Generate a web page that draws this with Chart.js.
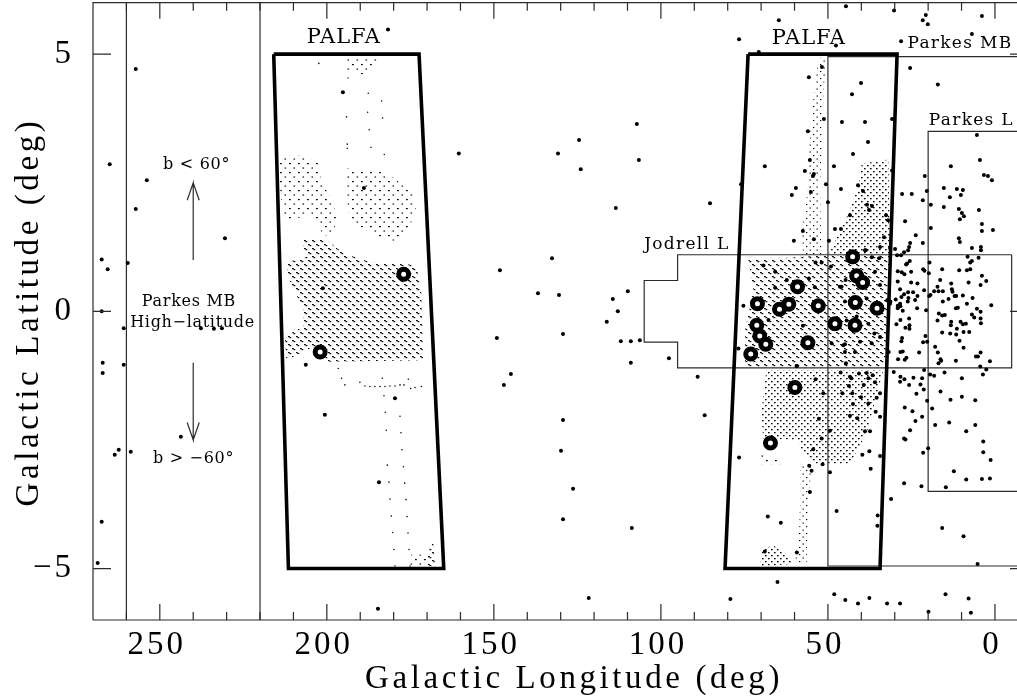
<!DOCTYPE html>
<html>
<head>
<meta charset="utf-8">
<title>Galactic pulsar surveys</title>
<script src="https://cdn.jsdelivr.net/npm/chart.js@4"></script>
<style>
html,body{margin:0;padding:0;background:#fff;overflow:hidden}
canvas{display:block}
</style>
</head>
<body>
<canvas id="c" width="1017" height="700"></canvas>
<script>
/* ---------- DATA: [longitude, latitude] in degrees ---------- */
const xMajorTicks=[250,200,150,100,50,0];
const xMinorTicks=[260,240,230,220,210,190,180,170,160,140,130,120,110,90,80,70,60,40,30,20,10];
const yTicks=[-5,0,5];

const pulsars=[[257.2,4.71],[265,2.86],[253.9,2.55],[257.2,1.99],[230.5,1.42],[267.4,1.01],[265.6,.82],[259.6,.94],[267.4,0],[260.8,-.33],[237.7,-.33],[233.8,-.34],[231.4,-.33],[201.2,.45],
[267.1,-1],[267.1,-1.2],[260.8,-1.04],[206.3,-1.04],[200.6,-2.01],[243.7,-2.44],[262.3,-2.69],[263.5,-2.79],[258.7,-2.73],[267.4,-4.09],[268.6,-4.89],
[181.7,5.48],[195.2,4.26],[188.9,2.4],[160.5,3.07],[130.8,3.07],[124.5,3.33],[124,2.76],[107.2,3.64],[106.6,2.94],[113.5,2.01],[132.6,1.03],[148.2,.8],[136.8,.35],[130.5,.32],[109.9,.39],[114.4,.24],[112.9,0],[116.2,-.2],[129.3,-.44],[149.1,-.52],[112,-.58],[109,-.58],[106.3,-.56],
[144.9,-1.22],[147,-1.43],[109,-1],[97.6,-.91],[179.6,-1.69],[129.3,-2.11],[129.9,-2.71],[126.3,-3.45],[129.3,-4.04],[108.7,-4.21],[184.4,-3.32],[121.6,-5.57],[184.7,-5.78],
[44.6,5.93],[30.2,5.85],[20.7,5.76],[21.6,5.66],[20.1,5.58],[3.9,5.74],[64.7,5.66],[76.6,5.29],[6.9,5.39],[28.1,5.25],[47.6,5.17],[70.7,5.04],[25.4,4.73],[17.1,4.41],[51.8,4.75],[55.7,4.55],[40.1,4.44],[42.8,4.22],[51.2,3.74],[45.8,3.68],[38.9,3.68],[30.8,3.74],[56,3.5],[38,3.29],[5.4,3.43],[42.5,3.06],[55.4,2.94],[4.5,2.94],[68.9,2.82],[48.2,2.82],[13.2,2.82],[56.9,2.73],[54.2,2.67],[54.5,2.63],[30.8,2.74],[3.3,2.65],[2.1,2.63],[.9,2.55],[21,2.63],[76,2.47],[50.6,2.47],[59.6,2.4],[46.1,2.38],[41,2.45],[39.5,2.34],[15.3,2.4],[11.4,2.38],[9.6,2.36],[55.1,2.32],[60.8,2.26],[27.8,2.28],[24.9,2.28],[20.4,2.34],[10.2,2.26],[13.5,2.22],[21.6,2.16],[50,2.12],[85.3,2.1],[19.2,2.07],[15.3,2.03],[38.3,2.07],[36.8,2.05],[37.7,1.97],[10.8,1.99],[4.8,1.97],[9.9,1.91],[9.3,1.85],[43.4,1.87],[32.6,1.87],[10.5,1.79],[32,1.77],[26.9,1.75],[3.9,1.7],[19.2,1.62],[3.9,1.56],[.6,1.58],[47.9,1.6],[46.1,1.6],[57.5,1.56],[33.2,1.44],[23.7,1.48],[54.2,1.4],[10.8,1.42],[60.2,1.37],[49.7,1.37],[10.5,1.35],[25.4,1.33],[21.6,1.33],[34.4,1.25],[4.2,1.25],[6.9,1.23],[4.2,1.19],[25.7,1.25],[26,1.19],[27.2,1.15],[31.4,1.23],[29.9,1.21],[38.9,1.19],[28.1,1.09],[29.3,1.09],
[8.2,1.06],[4.9,1.04],[19.6,.95],[7.4,.95],[6.9,.98],[25.5,.98],[26.3,.93],[26.6,.91],[29.1,.78],[27.9,.76],[27.1,.72],[25.1,.77],[21.5,.82],[21.1,.79],[19.8,.74],[15.8,.82],[10.7,.8],[8.4,.8],[7.4,.82],[3.9,.69],[2.6,.59],[4.3,.51],[29.1,.58],[25.1,.56],[23.2,.54],[16.4,.61],[13.1,.54],[7.9,.56],[17.2,.48],[28.4,.43],[21.2,.41],[12.9,.43],[12.7,.38],[18.2,.39],[16.9,.39],[15.6,.39],[26,.37],[24.5,.37],[27.2,.33],[28,.28],[25.9,.26],[23.2,.3],[23.9,.22],[26.1,.19],[29.7,.23],[31.3,.19],[28.4,.15],[29.1,.11],[28.3,.1],[29.1,.06],[19.7,.3],[19.3,.32],[13.9,.24],[15.6,.19],[12.1,.3],[11.6,.3],[9.6,.31],[6.7,.26],[8.4,.15],[23.3,.06],[20.6,.02],[27.6,.01],[25.7,-.14],[16.8,-.04],[15.8,-.08],[15,-.07],[11.7,.06],[11.1,.07],[5.4,.05],[4.3,-.01],[1.1,.12],[28.3,-.17],[17.2,-.18],[6.9,-.06],[6.2,-.12],[4.3,-.14],[4.2,-.23],[10.3,-.2],[9.6,-.25],[8.7,-.24],[13.1,-.2],[13.2,-.27],[29.5,-.25],[25.6,-.27],[26.8,-.32],[25.6,-.34],[11.4,-.34],[15.8,-.41],[13.4,-.43],[11.6,-.45],[9.4,-.4],[7.7,-.4],[27.8,-.52],[28,-.58],[20.8,-.48],[21.5,-.6],[20.3,-.59],[10.6,-.57],[17.9,-.69],[9.4,-.71],[17.1,-.8],[22.7,-.8],[27.6,-.78],[28.3,-.79],[4.3,-.8],[5.7,-.88],[5.1,-.88],[26.5,-.9],[27,-.94],[29,-.93],[31.8,-.79],[16.3,-.93],[16.1,-.96],[16.9,-1.01],[11.7,-.96],[1.5,-.97],[4.4,-1.07],[2.6,-1.13],[3.6,-1.23],[21.2,-1.14],[30.3,-1.18],[28.3,-1.27],[24.4,-1.29],[21.8,-1.3],[19.4,-1.23],[18.2,-1.25],[15.1,-1.19],[9.9,-1.3],[27.1,-1.32],
[69.3,.89],[65.8,.77],[62.3,.61],[53.7,.95],[51.9,.95],[55.7,.64],[53.9,.47],[65.8,.46],[75.3,.11],[57.5,-.28],[67.8,-.17],[76.8,-.72],[59.3,-1.06],[46.4,.48],[44.9,.19],[49.1,.87],[44.4,-.18],[41.4,-.1],[44.9,-.64],[41.9,-.79],[44.9,-.79],[44.6,-1.01],[48.9,-.62],[38.7,1.19],[38.4,.25],[40.4,-.59],[43.4,-1.27],[38.4,-1.2],
[36.9,1.05],[34.7,1.03],[35.9,.77],[34.4,.51],[45.9,.48],[44.7,.61],[40.4,.19],[32.2,.22],[31.4,.15],[36.1,-.43],[34.4,-.5],[36.9,-.62],[37.9,-.24],[45.4,-.66],
[89,-1.27],[86.9,-2.02],[76.6,-2.84],[59.4,-1.06],[53.7,-1.32],[51.4,-1.59],[46.2,-1.19],[40.7,-1.21],[43,-1.3],[37.9,-1.3],[36.6,-1.24],[35.9,-1.38],[43.7,-1.45],[39.3,-1.43],[45.7,-1.59],[42.7,-1.59],[34.4,-1.59],[35.4,-1.68],[40.1,-1.67],[42.5,-1.8],[37.9,-1.79],[35.7,-1.95],[34.4,-2.05],[43.4,-2.03],[41.2,-2.08],[52.7,-2.09],[49.4,-2.32],[37.4,-2.33],[38.9,-2.33],[51.9,-2.47],[54.4,-2.68],[37.6,-2.72],[39.7,-2.79],[34.4,-2.81],[51.6,-2.97],[55.6,-3],[54.9,-3.1],[49.4,-3.13],[37.2,-3.06],[55.4,-3.51],[47.4,-3.88],[35.1,-3.97],[35.2,-4.17],[68,-3.99],[64.1,-4.11],[68.9,-4.67],[59.3,-4.69],[65.1,-5.26],[79.2,-5.59],[48.1,-5.5],[44.8,-5.61],[41,-5.68],[37.6,-5.57],[32.3,-5.68],[28.4,-5.68],[19.9,-5.84],[14.8,-5.5],[7.9,-5.58],[7.2,-5.86],[5.2,-4.91],
[16.3,-1.56],[13.3,-1.72],[9.9,-1.66],[5.9,-1.73],[20.3,-1.74],[18.8,-1.89],[27,-1.87],[24.7,-1.94],[21.8,-2.05],[23.8,-2.13],[17.9,-2.21],[13.7,-2.16],[5.9,-2.21],[8.6,-2.33],[25.4,-2.31],[27.2,-2.47],[26.8,-2.49],[20,-2.66],[21.5,-2.75],[3.5,-2.53],[3.5,-2.74],[1.3,-2.89],[12.3,-3.11],[8.6,-3.27],[3.9,-3.26],[1.5,-3.25],[14.7,-3.42],[22,-3.4],[27.2,-3.34],[31.1,-3.65],[15.8,-4.21],[9.4,-4.37],[23.5,-1.6],[21.3,-1.52],[25.7,-1.43],[28.4,-1.37],[22.3,-1.42]];

const palfaPulsars=[[59.1,.48],[71.1,.15],[61.7,.14],[64.5,.04],[52.9,.11],[47.9,-.24],[41.9,-.27],[71.3,-.27],[70.4,-.48],[68.6,-.64],[56,-.61],[73.1,-.83],[42.6,1.06],[41.4,.69],[39.6,.56],[41.8,.17],[35.3,.06],[59.9,-1.48],[67.2,-2.56],[177,.72],[202,-.79]];

const isolatedPointings=[[182.9,-1.64],[178.1,-2.04],[182.5,-1.96],[182.2,-2.31],[177.8,-2.36],[177.5,-2.69],[181.9,-2.99],[177.1,-3.02],[181.4,-3.32],[176.7,-3.34],[181.1,-3.65],[176.3,-3.66],[180.7,-3.98],[176,-3.99],[180.3,-4.3],[175.7,-4.31],[179.9,-4.63],[175.4,-4.63],[179.6,-4.95],[175.1,-4.95],
[190.1,-1.38],[188.6,-1.45],[187.1,-1.46],[185.6,-1.46],[184.1,-1.46],[182.6,-1.46],[181.1,-1.45],[179.6,-1.45],[178.1,-1.43],[176.9,-1.43],[174.9,-1.5],[173.6,-1.48],[171.7,-1.46],[183.4,-1.3],[175.6,-1.32],[195.6,-1.3],[194.6,-1.43],[196.6,-1.11],
[202.4,4.82],[187.6,4.24],[183.6,4.09],[194.1,3.78],[187.8,3.87],[183.3,3.76],[187.3,3.53],[193.9,3.25],[186.8,3.19],[182.8,3.05],[193.9,3.17]];

// survey coverage outlines
const coverDense=[
[[207.6,1.39],[200.1,1.39],[195.1,1.13],[187.2,.96],[173.2,.9],[171.7,.35],[171.2,-.95],[200.1,-.98],[204.1,-.69],[212.1,-.95],[212.6,-.49],[207.1,-.3],[207.1,.03],[212.1,.74],[211.6,.96],[206.1,1.06]],
[[73.8,1],[64.4,1.03],[49.9,1.09],[31.6,1.09],[32.4,-.75],[33.4,-1.08],[74.8,-1.08],[74.8,-.36],[72.3,.41]],
[[168.2,-4.45],[167.6,-4.95],[169.7,-4.95],[170,-4.74]]];
const coverMedium=[
[[39.9,2.87],[31.9,2.95],[31.4,1.09],[49.9,1.09],[43.9,1.9],[40.9,2.42]],
[[68.4,-1.14],[33.4,-1.14],[38.4,-2.37],[43.4,-2.96],[54.4,-2.96],[58.4,-2.7],[58.4,-2.5],[69.4,-2.47],[69.9,-1.95]],
[[69.8,-4.64],[66.4,-4.54],[59.4,-4.9],[70.3,-4.96]]];
const coverSparse=[
[[214.6,3.01],[208.1,3.04],[202.1,2.88],[201.6,2.49],[198.6,2.2],[197.1,1.84],[198.1,1.48],[201.1,1.48],[204.1,1.87],[213.1,1.77],[214.1,2.49]],
[[194.1,2.78],[182.2,2.71],[174.2,2.29],[173.2,1.9],[178.2,1.35],[184.2,1.42],[193.1,1.77],[194.1,2.23]],
[[175.1,-4.96],[174.6,-4.7],[170,-4.74],[169.7,-4.95]],
[[194.1,4.94],[184.6,4.9],[188.1,4.56],[192.1,4.69],[194.3,4.43]],
[[70.3,-2.73],[62.4,-2.97],[70.3,-2.97]]];
const coverStrips=[
[[52.9,4.92],[50.4,4.95],[51.2,4.37],[51.9,3.07],[52.4,2.42],[51.9,1.06],[57.4,1.06],[57.9,1.55],[55.9,2.42],[55.9,3],[54.4,4.1]],
[[58.4,-2.96],[54.9,-3.02],[55.9,-3.73],[56.4,-4.9],[59.9,-4.9],[58.6,-4.25],[58.2,-3.47]]];

// survey boundaries
const palfaLeft=[[215.9,5],[172.4,5],[165,-5],[211.5,-5],[215.9,5]];
const palfaRight=[[73.9,5],[29.3,5],[34.4,-5],[80.8,-5],[73.9,5]];
const parkesMB=[[-10,4.95],[50,4.95],[50,-4.95],[-10,-4.95]];
const parkesL=[[-10,3.5],[20,3.5],[20,-3.5],[-10,-3.5]];
const jodrellL=[[-5,1.1],[95,1.1],[95,.6],[105,.6],[105,-.6],[95,-.6],[95,-1.1],[-5,-1.1],[-5,1.1]];
const highLatLeft=[[260,-6],[260,6]];
const highLatRight=[[220,-6],[220,6]];
const arrowUp=[[240,1],[240,2.5],[241.8,2.16],[240,2.5],[238.2,2.16]];
const arrowDown=[[240,-1],[240,-2.5],[241.8,-2.16],[240,-2.5],[238.2,-2.16]];

// text inside the frame
const regionLabels=[
{t:"PALFA",l:194.9,b:5.33},{t:"PALFA",l:55.7,b:5.31},
{t:"Parkes MB",l:26.2,b:5.21,a:"left"},{t:"Parkes L",l:19.8,b:3.7,a:"left"},{t:"Jodrell L",l:105,b:1.29,a:"left"},
{t:"b < 60°",l:239,b:2.84},{t:"Parkes MB",l:241.3,b:.18},{t:"High−latitude",l:240.2,b:-.23},{t:"b > −60°",l:239.9,b:-2.87}];
const xTitle="Galactic Longitude (deg)";
const yTitle="Galactic Latitude (deg)";

/* ---------- STIPPLE PATTERNS ---------- */
function stipple(size,marks){
  const p=document.createElement("canvas");p.width=p.height=size;
  const g=p.getContext("2d");g.fillStyle="#000";
  marks.forEach(m=>g.fillRect(m[0],m[1],m[2],m[3]));
  return g.createPattern(p,"repeat");
}
const denseFill=stipple(8,[[0,0,1.8,1.2],[1.5,1,1.8,1.2],[4,4,1.8,1.2],[5.5,5,1.8,1.2]]);
const mediumFill=stipple(6,[[0,0,1.6,1.3],[3,3,1.6,1.3]]);
const sparseFill=stipple(9,[[1,1,1.8,1.2],[5.5,5.5,1.6,1.1]]);
const stripFill=stipple(7,[[1,1,1.3,1.1],[4.5,4.5,1.3,1.1]]);

/* ---------- CHART ---------- */
const pts=a=>a.map(p=>({x:p[0],y:p[1]}));
const LINE="#2b2b2b";
const outline=(a,w)=>({type:"line",data:pts(a),borderColor:w>2?"#000":LINE,borderWidth:w,borderJoinStyle:"miter",borderCapStyle:"butt",pointRadius:0,fill:false,tension:0,order:2});
const cover=(a,f)=>({type:"line",data:pts(a.concat([a[0]])),borderWidth:0,backgroundColor:f,fill:"shape",pointRadius:0,tension:0,order:5});
const noEdgePadding=s=>{s.paddingTop=s.paddingBottom=s.paddingLeft=s.paddingRight=0;};
const labelFont=r=>r.t==="PALFA"?21:(r.l<120?17:16);

const frame={
  id:"frame",
  beforeDraw(c){c.ctx.letterSpacing="3px";},
  afterDatasetsDraw(c){
    const {ctx,chartArea:a,scales:{x,y}}=c;
    ctx.save();ctx.strokeStyle=LINE;ctx.lineWidth=1.2;ctx.beginPath();
    ctx.moveTo(a.left,a.bottom);ctx.lineTo(a.left,a.top);ctx.lineTo(a.right,a.top);
    ctx.moveTo(a.left,a.bottom);ctx.lineTo(a.right,a.bottom);
    const tickX=(v,len)=>{const p=x.getPixelForValue(v);
      ctx.moveTo(p,a.top);ctx.lineTo(p,a.top+len);ctx.moveTo(p,a.bottom);ctx.lineTo(p,a.bottom-len);};
    xMajorTicks.forEach(v=>tickX(v,16));
    xMinorTicks.forEach(v=>tickX(v,8));
    yTicks.forEach(v=>{const p=y.getPixelForValue(v);
      ctx.moveTo(a.left,p);ctx.lineTo(a.left+18,p);ctx.moveTo(a.right-7,p);ctx.lineTo(a.right,p);});
    ctx.stroke();
    // survey names
    ctx.fillStyle="#000";ctx.textBaseline="middle";
    regionLabels.forEach(r=>{
      ctx.textAlign=r.a||"center";
      ctx.font=labelFont(r)+"px 'DejaVu Serif'";
      ctx.letterSpacing=labelFont(r)===17?"1.3px":(labelFont(r)===16?".7px":"1px");
      ctx.fillText(r.t,x.getPixelForValue(r.l),y.getPixelForValue(r.b));
    });
    // axis titles
    ctx.font="33px 'Liberation Serif'";ctx.letterSpacing="3.6px";ctx.textAlign="center";
    ctx.fillText(xTitle,574,679);
    ctx.translate(29,312);ctx.rotate(-Math.PI/2);
    ctx.fillText(yTitle,0,0);
    ctx.restore();
  }
};

new Chart(document.getElementById("c"),{
  type:"scatter",
  data:{datasets:[
    {data:pts(palfaPulsars),pointRadius:5,borderWidth:5,pointBorderWidth:5,pointBorderColor:"#000",pointBackgroundColor:"#fff",order:0},
    {data:pts(pulsars),pointRadius:2,pointBorderWidth:0,pointBackgroundColor:"#000",order:1},
    {data:pts(isolatedPointings),pointRadius:.8,pointBorderWidth:0,pointBackgroundColor:"#111",order:4},
    outline(palfaLeft,3.6),outline(palfaRight,3.6),
    outline(parkesMB,1.2),outline(parkesL,1.2),outline(jodrellL,1.2),
    outline(highLatLeft,1.2),outline(highLatRight,1.2),outline(arrowUp,1.2),outline(arrowDown,1.2),
    ...coverDense.map(a=>cover(a,denseFill)),
    ...coverMedium.map(a=>cover(a,mediumFill)),
    ...coverSparse.map(a=>cover(a,sparseFill)),
    ...coverStrips.map(a=>cover(a,stripFill))
  ]},
  options:{
    responsive:false,animation:false,devicePixelRatio:1,
    layout:{autoPadding:false,padding:{top:2.7,left:0,right:0,bottom:0}},
    plugins:{legend:{display:false},tooltip:{enabled:false},title:{display:false}},
    scales:{
      x:{type:"linear",reverse:true,min:-6.6,max:270,
        grid:{display:false},border:{display:false},
        afterFit:s=>{s.height=80;noEdgePadding(s);},
        afterBuildTicks:s=>{s.ticks=xMajorTicks.map(value=>({value}));},
        ticks:{autoSkip:false,maxRotation:0,padding:-2,labelOffset:-3,color:"#000",font:{family:"'Liberation Serif'",size:33}}},
      y:{type:"linear",min:-6,max:6,
        grid:{display:false},border:{display:false},
        afterFit:s=>{s.width=93;noEdgePadding(s);},
        afterBuildTicks:s=>{s.ticks=yTicks.map(value=>({value}));},
        ticks:{padding:11,color:"#000",font:{family:"'Liberation Serif'",size:33},
          callback:v=>String(v).replace("-","−")}}
    }
  },
  plugins:[frame]
});
</script>
</body>
</html>
